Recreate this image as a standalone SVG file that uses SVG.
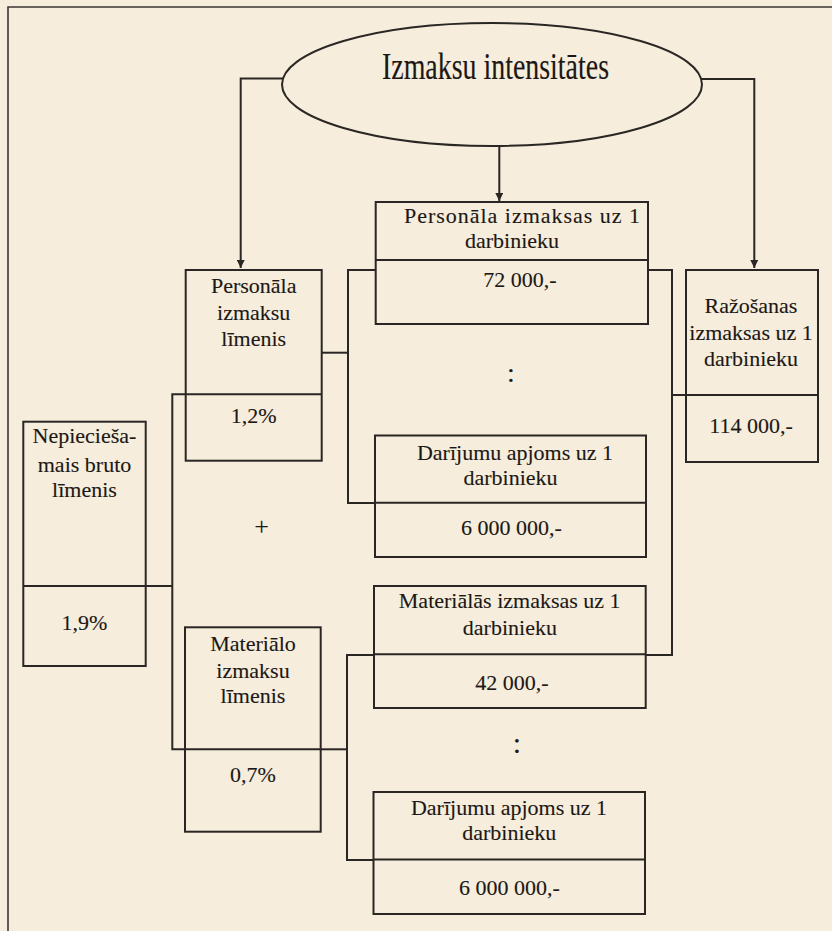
<svg xmlns="http://www.w3.org/2000/svg" width="832" height="931" viewBox="0 0 832 931">
<style>
.bg{fill:#f6eddc}
.box{fill:none;stroke:#2a2623;stroke-width:2}
.ln{fill:none;stroke:#2a2623;stroke-width:2}
.frame{fill:none;stroke:#3a3632;stroke-width:1.6}
.t{font-family:"Liberation Serif","Times New Roman",serif;font-size:22px;fill:#1c1815;stroke:#1c1815;stroke-width:0.12;text-anchor:middle}
.title{font-family:"Liberation Serif","Times New Roman",serif;font-size:37px;fill:#1c1815;stroke:#1c1815;stroke-width:0.15;text-anchor:middle}
</style>
<defs>
<marker id="ah" viewBox="0 0 10 10" refX="10" refY="5" markerWidth="9" markerHeight="8" markerUnits="userSpaceOnUse" orient="auto">
<path d="M0,0 L10,5 L0,10 z" fill="#2a2623"/>
</marker>
</defs>
<rect class="bg" x="0" y="0" width="832" height="931"/>
<g id="frame">
<path class="frame" d="M8,931 V7 H832"/>
</g>
<g id="connectors">
<path class="ln" d="M283,78.5 H240.7 V268" marker-end="url(#ah)"/>
<path class="ln" d="M701,79 H754.3 V268" marker-end="url(#ah)"/>
<path class="ln" d="M499.3,146 V201" marker-end="url(#ah)"/>
<path class="ln" d="M375.7,270 H348 V503 H375"/>
<path class="ln" d="M321.7,352.7 H348"/>
<path class="ln" d="M374,655 H347 V860 H373.5"/>
<path class="ln" d="M320.7,749.3 H347"/>
<path class="ln" d="M185.7,394.3 H172.3 V749.3 H185"/>
<path class="ln" d="M145.7,586 H172.3"/>
<path class="ln" d="M648,270 H672 V655 H645.7"/>
<path class="ln" d="M672,395 H686"/>
</g>
<g id="ellipse-izmaksu-intensitates">
<ellipse class="box" cx="492" cy="84.5" rx="210" ry="61.5"/>
<text class="title" x="495.5" y="78.5" textLength="227" lengthAdjust="spacingAndGlyphs">Izmaksu intensitātes</text>
</g>
<g id="box-personala-izmaksas">
<rect class="box" x="375.7" y="202" width="272.3" height="122"/>
<line class="box" x1="375.7" y1="260" x2="648" y2="260"/>
<text class="t" x="522" y="222.7" textLength="236" lengthAdjust="spacing">Personāla izmaksas uz 1</text>
<text class="t" x="512" y="248">darbinieku</text>
<text class="t" x="520" y="286.7">72 000,-</text>
</g>
<g id="box-darijumu-apjoms-1">
<rect class="box" x="375" y="435.5" width="271" height="121.5"/>
<line class="box" x1="375" y1="502.7" x2="646" y2="502.7"/>
<text class="t" x="515" y="460">Darījumu apjoms uz 1</text>
<text class="t" x="510.5" y="485">darbinieku</text>
<text class="t" x="511.5" y="535">6 000 000,-</text>
</g>
<g id="box-materialas-izmaksas">
<rect class="box" x="374" y="586" width="271.7" height="122"/>
<line class="box" x1="374" y1="654.3" x2="645.7" y2="654.3"/>
<text class="t" x="509.7" y="608.3">Materiālās izmaksas uz 1</text>
<text class="t" x="509.9" y="635">darbinieku</text>
<text class="t" x="512" y="690">42 000,-</text>
</g>
<g id="box-darijumu-apjoms-2">
<rect class="box" x="373.5" y="792" width="271.5" height="122"/>
<line class="box" x1="373.5" y1="859.5" x2="645" y2="859.5"/>
<text class="t" x="509" y="815">Darījumu apjoms uz 1</text>
<text class="t" x="509.3" y="840">darbinieku</text>
<text class="t" x="509.3" y="895">6 000 000,-</text>
</g>
<g id="box-personala-limenis">
<rect class="box" x="185.7" y="270" width="136" height="190.7"/>
<line class="box" x1="185.7" y1="394.3" x2="321.7" y2="394.3"/>
<text class="t" x="253.7" y="293">Personāla</text>
<text class="t" x="253.7" y="320">izmaksu</text>
<text class="t" x="253.7" y="346">līmenis</text>
<text class="t" x="253.7" y="423.3">1,2%</text>
</g>
<g id="box-nepieciesamais">
<rect class="box" x="23.3" y="421.7" width="122.4" height="244.3"/>
<line class="box" x1="23.3" y1="586" x2="145.7" y2="586"/>
<text class="t" x="84.5" y="443.3">Nepiecieša-</text>
<text class="t" x="84.5" y="471.7">mais bruto</text>
<text class="t" x="84.5" y="497.3">līmenis</text>
<text class="t" x="84.5" y="630">1,9%</text>
</g>
<g id="box-materialo-limenis">
<rect class="box" x="185" y="627.3" width="135.7" height="204.4"/>
<line class="box" x1="185" y1="749.3" x2="320.7" y2="749.3"/>
<text class="t" x="253" y="650.7">Materiālo</text>
<text class="t" x="253" y="678">izmaksu</text>
<text class="t" x="253" y="703.3">līmenis</text>
<text class="t" x="253" y="781.7">0,7%</text>
</g>
<g id="box-razosanas">
<rect class="box" x="686" y="270" width="132" height="192"/>
<line class="box" x1="686" y1="395" x2="818" y2="395"/>
<text class="t" x="751" y="313.3">Ražošanas</text>
<text class="t" x="751" y="340">izmaksas uz 1</text>
<text class="t" x="751" y="366">darbinieku</text>
<text class="t" x="751" y="433.3">114 000,-</text>
</g>
<g id="symbols">
<text class="t" x="261.7" y="535" style="font-size:26px">+</text>
<text class="t" x="511" y="382" style="font-size:28px">:</text>
<text class="t" x="517" y="753" style="font-size:30px">:</text>
</g>
</svg>
